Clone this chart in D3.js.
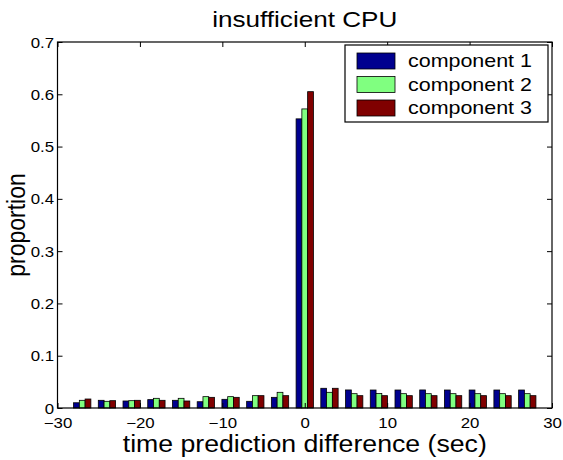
<!DOCTYPE html>
<html>
<head>
<meta charset="utf-8">
<script src="https://cdn.jsdelivr.net/npm/d3@7"></script>
<style>
  html, body { margin: 0; padding: 0; background: #fff; }
  svg { display: block; font-family: "Liberation Sans", Arial, Helvetica, sans-serif; }
</style>
</head>
<body>
<svg id="chart" width="563" height="460"></svg>
<script>
// Time-difference bins (sec), one group of bars per bin
const bins = [-27, -24, -21, -18, -15, -12, -9, -6, -3, 0, 3, 6, 9, 12, 15, 18, 21, 24, 27];
const seriesNames = ["component 1", "component 2", "component 3"];
const component1 = [0.010, 0.0147, 0.0134, 0.016, 0.0147, 0.012, 0.0166, 0.0128, 0.0204, 0.553, 0.0377, 0.0345, 0.0344, 0.0344, 0.0345, 0.0344, 0.0344, 0.0344, 0.0344];
const component2 = [0.0147, 0.0128, 0.014, 0.0185, 0.0185, 0.0217, 0.0217, 0.0236, 0.030, 0.572, 0.030, 0.0274, 0.0276, 0.0274, 0.0274, 0.0274, 0.0274, 0.0274, 0.0274];
const component3 = [0.0172, 0.014, 0.0147, 0.0147, 0.0134, 0.0204, 0.0204, 0.0236, 0.0236, 0.605, 0.0377, 0.0236, 0.0236, 0.0236, 0.0236, 0.0236, 0.0236, 0.0236, 0.0236];
const xTicks = [-30, -20, -10, 0, 10, 20, 30];
const yTicks = [0, 0.1, 0.2, 0.3, 0.4, 0.5, 0.6, 0.7];
const colors = ["#00008f", "#80ff80", "#800000"];

const series = [component1, component2, component3];
const svg = d3.select("#chart");
const sx = 1.16; // horizontal glyph stretch

const plotLeft = 57.5, plotRight = 552, plotTop = 42, plotBottom = 408;
const x = d3.scaleLinear().domain([-30, 30]).range([plotLeft, plotRight]);
const y = d3.scaleLinear().domain([0, 0.7]).range([plotBottom, plotTop]);
const inner = d3.scaleBand().domain(d3.range(series.length)).range([-1.05, 1.05]);

// plot background
svg.append("rect").attr("x", plotLeft).attr("y", plotTop)
  .attr("width", plotRight - plotLeft).attr("height", plotBottom - plotTop).attr("fill", "#fff");

// bars
series.forEach((vals, si) => {
  svg.append("g").selectAll("rect").data(bins).join("rect")
    .attr("x", (d) => x(d + inner(si)))
    .attr("width", (d) => x(d + inner(si) + inner.bandwidth()) - x(d + inner(si)))
    .attr("y", (d, i) => y(vals[i]))
    .attr("height", (d, i) => y(0) - y(vals[i]))
    .attr("fill", colors[si])
    .attr("stroke", "#000")
    .attr("stroke-width", 0.8);
});

// axes (ticks point inward on all four sides)
function styleAxis(g) {
  g.select(".domain").remove();
  g.selectAll(".tick line").attr("stroke", "#000").attr("stroke-width", 1);
}
const gx = svg.append("g").attr("transform", `translate(0,${plotBottom})`)
  .call(d3.axisBottom(x).tickValues(xTicks).tickSize(-5).tickFormat(d3.format("d")));
styleAxis(gx);
gx.selectAll(".tick text")
  .attr("y", 0).attr("dy", 0)
  .attr("transform", `translate(0,20) scale(${sx},1)`)
  .attr("font-size", 14.5).attr("fill", "#000").attr("font-family", null);

const gxt = svg.append("g").attr("transform", `translate(0,${plotTop})`)
  .call(d3.axisTop(x).tickValues(xTicks).tickSize(-5).tickFormat(""));
styleAxis(gxt);

const gy = svg.append("g").attr("transform", `translate(${plotLeft},0)`)
  .call(d3.axisLeft(y).tickValues(yTicks).tickSize(-5).tickFormat((d) => d === 0 ? "0" : d3.format(".1f")(d)));
styleAxis(gy);
gy.selectAll(".tick text")
  .attr("x", 0).attr("dy", "0.35em")
  .attr("transform", `translate(-3.5,0) scale(${sx},1)`)
  .attr("font-size", 14.5).attr("fill", "#000").attr("font-family", null);

const gyr = svg.append("g").attr("transform", `translate(${plotRight},0)`)
  .call(d3.axisRight(y).tickValues(yTicks).tickSize(-5).tickFormat(""));
styleAxis(gyr);

// frame
svg.append("rect").attr("x", plotLeft).attr("y", plotTop)
  .attr("width", plotRight - plotLeft).attr("height", plotBottom - plotTop)
  .attr("fill", "none").attr("stroke", "#000").attr("stroke-width", 1.2);

// title and axis labels
svg.append("text")
  .attr("transform", `translate(${(plotLeft + plotRight) / 2},27) scale(${sx},1)`)
  .attr("text-anchor", "middle").attr("font-size", 22.5).text("insufficient CPU");
svg.append("text")
  .attr("transform", `translate(${(plotLeft + plotRight) / 2},452) scale(${sx},1)`)
  .attr("text-anchor", "middle").attr("font-size", 23).text("time prediction difference (sec)");
svg.append("text")
  .attr("transform", `translate(25,${(plotTop + plotBottom) / 2}) rotate(-90) scale(1,${sx})`)
  .attr("text-anchor", "middle").attr("font-size", 23).text("proportion");

// legend
const lg = svg.append("g");
lg.append("rect").attr("x", 345).attr("y", 45).attr("width", 203).attr("height", 77)
  .attr("fill", "#fff").attr("stroke", "#000").attr("stroke-width", 1.2);
const rowY = [61, 84.5, 108];
seriesNames.forEach((name, i) => {
  lg.append("rect").attr("x", 357).attr("y", rowY[i] - 8).attr("width", 38).attr("height", 16)
    .attr("fill", colors[i]).attr("stroke", "#000").attr("stroke-width", 0.8);
  lg.append("text")
    .attr("transform", `translate(408,${rowY[i]}) scale(${sx},1)`)
    .attr("dy", "0.35em").attr("font-size", 18.5).text(name);
});
</script>
</body>
</html>
